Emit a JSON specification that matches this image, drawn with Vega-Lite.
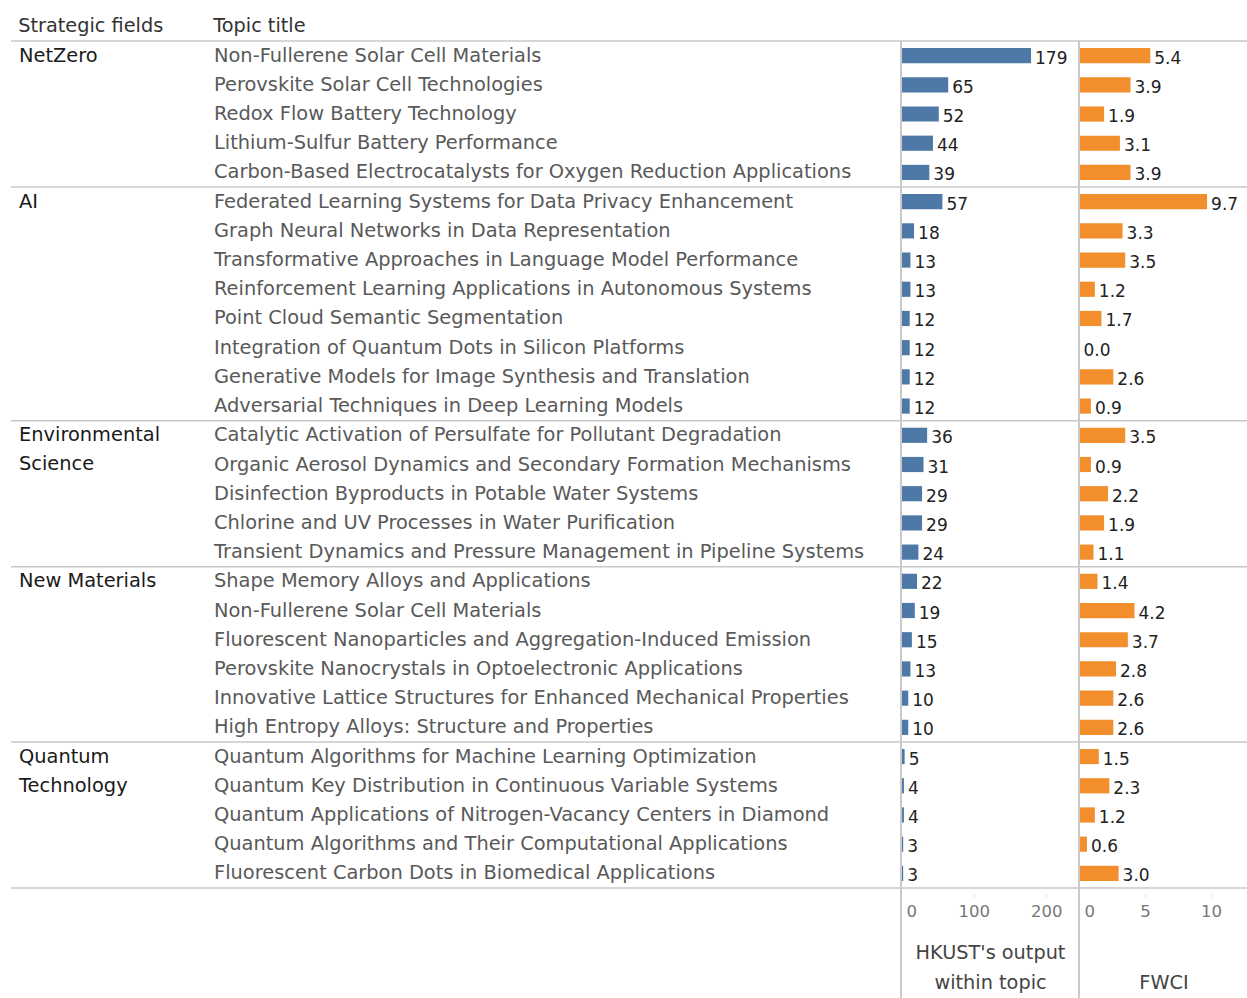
{
  "$schema": "https://vega.github.io/schema/vega-lite/v6.json",
  "padding": {"left": 10, "top": 16, "right": 0, "bottom": 0},
  "spacing": 0,
  "bounds": "flush",
  "config": {
    "view": {"stroke": null},
    "font": "DejaVu Sans",
    "title": {"fontSize": 19.3, "fontWeight": "normal", "color": "#333333", "anchor": "start", "offset": 4, "font": "DejaVu Sans"}
  },
  "datasets": {
    "topics": [
      {"row": 1, "field": "NetZero", "topic": "Non-Fullerene Solar Cell Materials", "output": 179, "fwci": 5.4},
      {"row": 2, "field": "NetZero", "topic": "Perovskite Solar Cell Technologies", "output": 65, "fwci": 3.9},
      {"row": 3, "field": "NetZero", "topic": "Redox Flow Battery Technology", "output": 52, "fwci": 1.9},
      {"row": 4, "field": "NetZero", "topic": "Lithium-Sulfur Battery Performance", "output": 44, "fwci": 3.1},
      {"row": 5, "field": "NetZero", "topic": "Carbon-Based Electrocatalysts for Oxygen Reduction Applications", "output": 39, "fwci": 3.9},
      {"row": 6, "field": "AI", "topic": "Federated Learning Systems for Data Privacy Enhancement", "output": 57, "fwci": 9.7},
      {"row": 7, "field": "AI", "topic": "Graph Neural Networks in Data Representation", "output": 18, "fwci": 3.3},
      {"row": 8, "field": "AI", "topic": "Transformative Approaches in Language Model Performance", "output": 13, "fwci": 3.5},
      {"row": 9, "field": "AI", "topic": "Reinforcement Learning Applications in Autonomous Systems", "output": 13, "fwci": 1.2},
      {"row": 10, "field": "AI", "topic": "Point Cloud Semantic Segmentation", "output": 12, "fwci": 1.7},
      {"row": 11, "field": "AI", "topic": "Integration of Quantum Dots in Silicon Platforms", "output": 12, "fwci": 0.04},
      {"row": 12, "field": "AI", "topic": "Generative Models for Image Synthesis and Translation", "output": 12, "fwci": 2.6},
      {"row": 13, "field": "AI", "topic": "Adversarial Techniques in Deep Learning Models", "output": 12, "fwci": 0.9},
      {"row": 14, "field": "Environmental\nScience", "topic": "Catalytic Activation of Persulfate for Pollutant Degradation", "output": 36, "fwci": 3.5},
      {"row": 15, "field": "Environmental\nScience", "topic": "Organic Aerosol Dynamics and Secondary Formation Mechanisms", "output": 31, "fwci": 0.9},
      {"row": 16, "field": "Environmental\nScience", "topic": "Disinfection Byproducts in Potable Water Systems", "output": 29, "fwci": 2.2},
      {"row": 17, "field": "Environmental\nScience", "topic": "Chlorine and UV Processes in Water Purification", "output": 29, "fwci": 1.9},
      {"row": 18, "field": "Environmental\nScience", "topic": "Transient Dynamics and Pressure Management in Pipeline Systems", "output": 24, "fwci": 1.1},
      {"row": 19, "field": "New Materials", "topic": "Shape Memory Alloys and Applications", "output": 22, "fwci": 1.4},
      {"row": 20, "field": "New Materials", "topic": "Non-Fullerene Solar Cell Materials", "output": 19, "fwci": 4.2},
      {"row": 21, "field": "New Materials", "topic": "Fluorescent Nanoparticles and Aggregation-Induced Emission", "output": 15, "fwci": 3.7},
      {"row": 22, "field": "New Materials", "topic": "Perovskite Nanocrystals in Optoelectronic Applications", "output": 13, "fwci": 2.8},
      {"row": 23, "field": "New Materials", "topic": "Innovative Lattice Structures for Enhanced Mechanical Properties", "output": 10, "fwci": 2.6},
      {"row": 24, "field": "New Materials", "topic": "High Entropy Alloys: Structure and Properties", "output": 10, "fwci": 2.6},
      {"row": 25, "field": "Quantum\nTechnology", "topic": "Quantum Algorithms for Machine Learning Optimization", "output": 5, "fwci": 1.5},
      {"row": 26, "field": "Quantum\nTechnology", "topic": "Quantum Key Distribution in Continuous Variable Systems", "output": 4, "fwci": 2.3},
      {"row": 27, "field": "Quantum\nTechnology", "topic": "Quantum Applications of Nitrogen-Vacancy Centers in Diamond", "output": 4, "fwci": 1.2},
      {"row": 28, "field": "Quantum\nTechnology", "topic": "Quantum Algorithms and Their Computational Applications", "output": 3, "fwci": 0.6},
      {"row": 29, "field": "Quantum\nTechnology", "topic": "Fluorescent Carbon Dots in Biomedical Applications", "output": 3, "fwci": 3.0}
    ]
  },
  "hconcat": [
    {
      "width": 203,
      "height": 957,
      "title": {"text": "Strategic fields", "dx": 8},
      "data": {"name": "topics"},
      "layer": [
        {
          "transform": [
            {"joinaggregate": [{"op": "min", "field": "row", "as": "first"}], "groupby": ["field"]},
            {"filter": "datum.row === datum.first"}
          ],
          "mark": {"type": "rule", "color": "#c8c8c8", "strokeWidth": 1.5},
          "encoding": {"y": {"field": "row", "type": "ordinal", "axis": null, "bandPosition": 0, "scale": {"type": "band", "paddingInner": 0, "paddingOuter": 0, "range": [0, 847], "round": false}}}
        },
        {
          "transform": [
            {"joinaggregate": [{"op": "max", "field": "row", "as": "last"}]},
            {"filter": "datum.row === datum.last"}
          ],
          "mark": {"type": "rule", "color": "#c8c8c8", "strokeWidth": 1.5},
          "encoding": {"y": {"field": "row", "type": "ordinal", "axis": null, "bandPosition": 1, "scale": {"type": "band", "paddingInner": 0, "paddingOuter": 0, "range": [0, 847], "round": false}}}
        },
        {
          "transform": [
            {"joinaggregate": [{"op": "min", "field": "row", "as": "first"}], "groupby": ["field"]}
          ],
          "mark": {"type": "text", "align": "left", "baseline": "alphabetic", "dx": 8, "dy": 6, "fontSize": 19.4, "color": "#1a1a1a", "lineBreak": "\n", "lineHeight": 29.2},
          "encoding": {
            "x": {"value": 0},
            "y": {"field": "row", "type": "ordinal", "axis": null, "scale": {"type": "band", "paddingInner": 0, "paddingOuter": 0, "range": [0, 847], "round": false}},
            "text": {"condition": {"test": "datum.row === datum.first", "field": "field", "type": "nominal"}, "value": ""}
          }
        }
      ]
    },
    {
      "width": 687,
      "height": 957,
      "title": {"text": "Topic title"},
      "data": {"name": "topics"},
      "layer": [
        {
          "transform": [
            {"joinaggregate": [{"op": "min", "field": "row", "as": "first"}], "groupby": ["field"]},
            {"filter": "datum.row === datum.first"}
          ],
          "mark": {"type": "rule", "color": "#c8c8c8", "strokeWidth": 1.5},
          "encoding": {"y": {"field": "row", "type": "ordinal", "axis": null, "bandPosition": 0, "scale": {"type": "band", "paddingInner": 0, "paddingOuter": 0, "range": [0, 847], "round": false}}}
        },
        {
          "transform": [
            {"joinaggregate": [{"op": "max", "field": "row", "as": "last"}]},
            {"filter": "datum.row === datum.last"}
          ],
          "mark": {"type": "rule", "color": "#c8c8c8", "strokeWidth": 1.5},
          "encoding": {"y": {"field": "row", "type": "ordinal", "axis": null, "bandPosition": 1, "scale": {"type": "band", "paddingInner": 0, "paddingOuter": 0, "range": [0, 847], "round": false}}}
        },
        {
          "mark": {"type": "text", "align": "left", "baseline": "alphabetic", "dy": 6, "fontSize": 19.4, "color": "#595959"},
          "encoding": {
            "x": {"value": 0},
            "y": {"field": "row", "type": "ordinal", "axis": null, "scale": {"type": "band", "paddingInner": 0, "paddingOuter": 0, "range": [0, 847], "round": false}},
            "text": {"field": "topic", "type": "nominal"}
          }
        }
      ]
    },
    {
      "width": 178,
      "height": 957,
      "data": {"name": "topics"},
      "layer": [
        {
          "transform": [
            {"joinaggregate": [{"op": "min", "field": "row", "as": "first"}], "groupby": ["field"]},
            {"filter": "datum.row === datum.first"}
          ],
          "mark": {"type": "rule", "color": "#c8c8c8", "strokeWidth": 1.5},
          "encoding": {"y": {"field": "row", "type": "ordinal", "axis": null, "bandPosition": 0, "scale": {"type": "band", "paddingInner": 0, "paddingOuter": 0, "range": [0, 847], "round": false}}}
        },
        {
          "transform": [
            {"joinaggregate": [{"op": "max", "field": "row", "as": "last"}]},
            {"filter": "datum.row === datum.last"}
          ],
          "mark": {"type": "rule", "color": "#c8c8c8", "strokeWidth": 1.5},
          "encoding": {"y": {"field": "row", "type": "ordinal", "axis": null, "bandPosition": 1, "scale": {"type": "band", "paddingInner": 0, "paddingOuter": 0, "range": [0, 847], "round": false}}}
        },
        {
          "mark": {"type": "bar", "height": {"band": 0.52}, "color": "#4e79a7"},
          "encoding": {
            "x": {
              "field": "output", "type": "quantitative",
              "scale": {"domain": [0, 245], "nice": false},
              "axis": {
                "orient": "bottom", "offset": -105, "values": [0, 100, 200], "domain": false, "grid": false,
                "ticks": true, "tickColor": "#e3e3e3", "tickSize": 4,
                "labelFont": "DejaVu Sans", "labelFontSize": 16.5, "labelColor": "#777777", "labelPadding": 6,
                "labelFlush": 1, "labelFlushOffset": -5, "labelAngle": 0,
                "title": ["HKUST's output", "within topic"],
                "titleFont": "DejaVu Sans", "titleFontSize": 19.3, "titleFontWeight": "normal", "titleColor": "#444444",
                "titlePadding": 24, "titleLineHeight": 30
              }
            },
            "y": {"field": "row", "type": "ordinal", "axis": null, "scale": {"type": "band", "paddingInner": 0, "paddingOuter": 0, "range": [0, 847], "round": false}}
          }
        },
        {
          "mark": {"type": "text", "align": "left", "baseline": "middle", "dx": 4, "dy": 3, "fontSize": 17, "color": "#222222"},
          "encoding": {
            "x": {"field": "output", "type": "quantitative", "scale": {"domain": [0, 245], "nice": false}},
            "y": {"field": "row", "type": "ordinal", "axis": null, "scale": {"type": "band", "paddingInner": 0, "paddingOuter": 0, "range": [0, 847], "round": false}},
            "text": {"field": "output", "type": "quantitative", "format": "d"}
          }
        },
        {
          "mark": {"type": "rule", "color": "#c8c8c8", "strokeWidth": 1.5},
          "encoding": {"x": {"datum": 0, "type": "quantitative", "scale": {"domain": [0, 245], "nice": false}}}
        }
      ]
    },
    {
      "width": 169,
      "height": 957,
      "data": {"name": "topics"},
      "layer": [
        {
          "transform": [
            {"joinaggregate": [{"op": "min", "field": "row", "as": "first"}], "groupby": ["field"]},
            {"filter": "datum.row === datum.first"}
          ],
          "mark": {"type": "rule", "color": "#c8c8c8", "strokeWidth": 1.5},
          "encoding": {"y": {"field": "row", "type": "ordinal", "axis": null, "bandPosition": 0, "scale": {"type": "band", "paddingInner": 0, "paddingOuter": 0, "range": [0, 847], "round": false}}}
        },
        {
          "transform": [
            {"joinaggregate": [{"op": "max", "field": "row", "as": "last"}]},
            {"filter": "datum.row === datum.last"}
          ],
          "mark": {"type": "rule", "color": "#c8c8c8", "strokeWidth": 1.5},
          "encoding": {"y": {"field": "row", "type": "ordinal", "axis": null, "bandPosition": 1, "scale": {"type": "band", "paddingInner": 0, "paddingOuter": 0, "range": [0, 847], "round": false}}}
        },
        {
          "mark": {"type": "bar", "height": {"band": 0.52}, "color": "#f28e2b"},
          "encoding": {
            "x": {
              "field": "fwci", "type": "quantitative",
              "scale": {"domain": [0, 12.8], "nice": false},
              "axis": {
                "orient": "bottom", "offset": -105, "values": [0, 5, 10], "domain": false, "grid": false,
                "ticks": true, "tickColor": "#e3e3e3", "tickSize": 4,
                "labelFont": "DejaVu Sans", "labelFontSize": 16.5, "labelColor": "#777777", "labelPadding": 6,
                "labelFlush": 1, "labelFlushOffset": -5, "labelAngle": 0,
                "title": ["", "FWCI"],
                "titleFont": "DejaVu Sans", "titleFontSize": 19.3, "titleFontWeight": "normal", "titleColor": "#444444",
                "titlePadding": 24, "titleLineHeight": 30
              }
            },
            "y": {"field": "row", "type": "ordinal", "axis": null, "scale": {"type": "band", "paddingInner": 0, "paddingOuter": 0, "range": [0, 847], "round": false}}
          }
        },
        {
          "mark": {"type": "text", "align": "left", "baseline": "middle", "dx": 4, "dy": 3, "fontSize": 17, "color": "#222222"},
          "encoding": {
            "x": {"field": "fwci", "type": "quantitative", "scale": {"domain": [0, 12.8], "nice": false}},
            "y": {"field": "row", "type": "ordinal", "axis": null, "scale": {"type": "band", "paddingInner": 0, "paddingOuter": 0, "range": [0, 847], "round": false}},
            "text": {"field": "fwci", "type": "quantitative", "format": ".1f"}
          }
        },
        {
          "mark": {"type": "rule", "color": "#c8c8c8", "strokeWidth": 1.5},
          "encoding": {"x": {"datum": 0, "type": "quantitative", "scale": {"domain": [0, 12.8], "nice": false}}}
        }
      ]
    }
  ]
}
